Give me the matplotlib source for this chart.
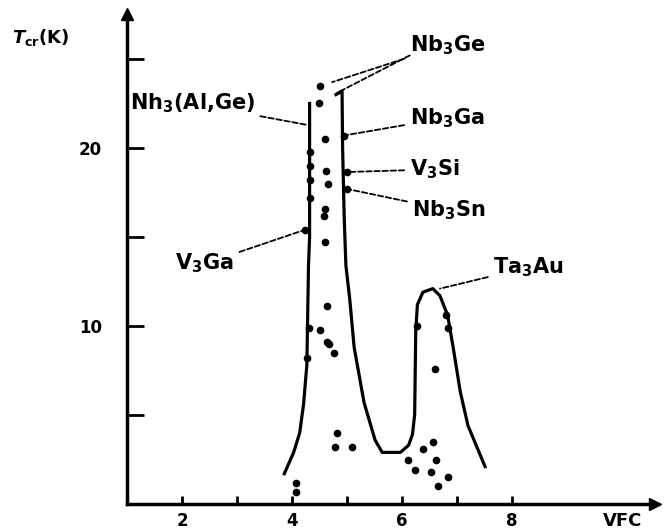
import matplotlib.pyplot as plt

plt.rcParams['mathtext.fontset'] = 'custom'
plt.rcParams['mathtext.rm'] = 'DejaVu Sans:bold'
plt.rcParams['mathtext.it'] = 'DejaVu Sans:italic:bold'
plt.rcParams['mathtext.default'] = 'rm'

# main curve, A15 peak (left and right branch) and Ta3Au peak
left_x = [4.32, 4.32, 4.30, 4.27, 4.21, 4.14, 4.03, 3.86]
left_t = [22.5, 15.0, 13.4, 7.8, 5.6, 4.0, 2.9, 1.7]

right_x = [4.80, 4.91, 4.92, 4.95, 4.98, 5.05, 5.13, 5.31, 5.51, 5.64, 5.97, 6.12, 6.19, 6.23,
           6.25, 6.28, 6.38, 6.56, 6.69, 6.83, 6.93, 7.06, 7.20, 7.51]
right_t = [23.0, 23.2, 20.0, 16.0, 13.4, 11.5, 8.8, 5.7, 3.6, 2.9, 2.9, 3.3, 3.9, 5.0,
           9.7, 11.2, 11.9, 12.1, 11.7, 10.6, 8.8, 6.3, 4.4, 2.1]

# measured compounds
pts_x = [4.50, 4.49, 4.60, 4.61, 4.65, 4.60, 4.58, 4.60, 4.63, 4.51, 4.63, 4.67, 4.76,
         4.82, 4.78, 5.09, 4.08, 4.08, 6.60, 6.56, 6.38, 6.10, 6.61, 6.23, 6.52, 6.83, 6.65,
         4.32, 4.33, 4.32, 4.32, 4.23, 4.30, 4.28, 4.94, 5.00, 5.00, 6.28, 6.83, 6.80]
pts_t = [23.5, 22.5, 20.5, 18.7, 18.0, 16.6, 16.2, 14.7, 11.1, 9.8, 9.1, 9.0, 8.5,
         4.0, 3.2, 3.2, 1.2, 0.7, 7.6, 3.5, 3.1, 2.5, 2.5, 1.9, 1.8, 1.5, 1.0,
         19.8, 19.0, 18.2, 17.2, 15.4, 9.9, 8.2, 20.7, 18.65, 17.7, 10.0, 9.9, 10.6]

labels = ['Nb$_3$Ge', 'Nb$_3$Ga', 'V$_3$Si', 'Nb$_3$Sn', 'Ta$_3$Au', 'Nh$_3$(Al,Ge)', 'V$_3$Ga']
label_x = [6.14, 6.14, 6.14, 6.19, 7.66, 1.05, 1.88]
label_t = [25.8, 21.7, 18.8, 16.5, 13.3, 22.5, 13.5]
target_x = [4.73, 4.94, 5.00, 5.00, 6.69, 4.27, 4.23]
target_t = [23.7, 20.7, 18.65, 17.7, 12.1, 21.3, 15.4]

fig = plt.figure(figsize=(6.69, 5.30), dpi=100)
ax = fig.add_axes([127 / 669, 26 / 530, (655 - 127) / 669, (504 - 14) / 530])
ax.set_xlim(1, 1 + (655 - 127) / 55.0)
ax.set_ylim(0, (504 - 14) / 17.8)

ax.plot(left_x, left_t, color='black', lw=2.3)
ax.plot(right_x, right_t, color='black', lw=2.3)
ax.plot(pts_x, pts_t, 'o', color='black', ms=4.5, clip_on=False)

for i in range(len(labels)):
    ax.annotate(labels[i], xy=(target_x[i], target_t[i]), xytext=(label_x[i], label_t[i]),
                ha='left', va='center', family='DejaVu Sans', weight='bold', size=15,
                arrowprops=dict(arrowstyle='-', ls=(0, (3, 1.5)), lw=1.3, color='black',
                                shrinkA=2, shrinkB=0))
# second leader for Nb3Ge
ax.annotate('', xy=(4.82, 23.1), xytext=(6.14, 25.2),
            arrowprops=dict(arrowstyle='-', ls=(0, (3, 1.5)), lw=1.3, color='black',
                            shrinkA=0, shrinkB=0))

for s in ['top', 'right']:
    ax.spines[s].set_visible(False)
for s in ['left', 'bottom']:
    ax.spines[s].set_linewidth(2.5)

ax.set_xticks([2, 3, 4, 5, 6, 7, 8])
ax.set_xticklabels(['2', '', '4', '', '6', '', '8'])
ax.set_yticks([5, 10, 15, 20, 25])
ax.set_yticklabels(['', '10', '', '20', ''])
ax.tick_params(axis='both', direction='in', width=2, colors='black')
ax.tick_params(axis='x', length=6, pad=6, labelsize=12)
ax.tick_params(axis='y', length=12, pad=18, labelsize=12)
for t in ax.get_xticklabels() + ax.get_yticklabels():
    t.set_fontweight('bold')

# axis arrows
ax.plot(0, 1, '^', color='black', ms=9, transform=ax.transAxes, clip_on=False)
ax.plot(1, 0, '>', color='black', ms=9, transform=ax.transAxes, clip_on=False)

fig.text(12 / 669, 1 - 38 / 530, r'$\mathit{T}_{\rm cr}$(K)', fontsize=13, fontweight='bold', va='center')
fig.text(603 / 669, 1 - 521 / 530, 'VFC', fontsize=13, fontweight='bold', va='center')

fig.savefig('out.png', dpi=100)
